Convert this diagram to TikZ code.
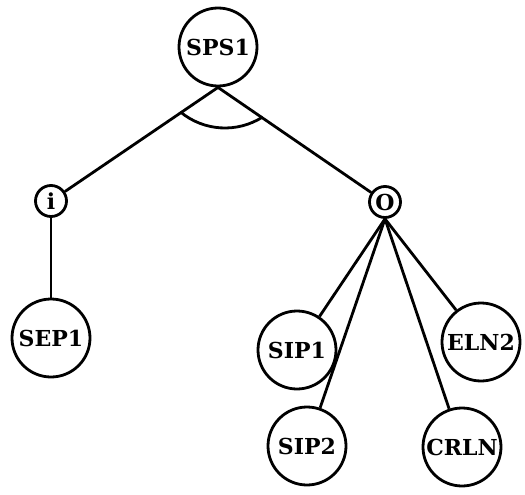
\documentclass[tikz,border=0pt]{standalone}
\usepackage{fontspec}
\setmainfont{DejaVu Serif}
\usetikzlibrary{calc}
\begin{document}
\begin{tikzpicture}[x=1pt,y=-1pt,
  every node/.style={font=\fontsize{22}{26}\selectfont\bfseries},
  bignode/.style={circle,draw,line width=2.8pt,inner sep=0pt,minimum size=78pt},
  smallnode/.style={circle,draw,line width=2.8pt,inner sep=0pt,minimum size=31pt},
  link/.style={line width=2.8pt}]
\useasboundingbox (0,0) rectangle (525,495);
% goal node and its AND-connected subgoals
\node[bignode] (sps1) at (218,47) {SPS1};
\node[smallnode] (i) at (51,201) {i};
\node[smallnode] (o) at (385,202) {O};
% leaves
\node[bignode] (sep1) at (51,338) {SEP1};
\node[bignode] (sip1) at (297,350) {SIP1};
\node[bignode] (eln2) at (481,342) {ELN2};
\node[bignode] (sip2) at (307,446) {SIP2};
\node[bignode] (crln) at (462,447) {CRLN};
% connectors
\draw[link] (sps1.south) -- (i);
\draw[link] (sps1.south) -- (o);
\draw[link] (i.south) -- (sep1);
\draw[link] (o.south) -- (sip1);
\draw[link] (o.south) -- (sip2);
\draw[link] (o.south) -- (crln);
\draw[link] (o.south) -- (eln2);
% AND arc joining the two branches (y axis points down here)
\coordinate (andc) at ($(sps1.center)+(7,11)$);
\draw[link] ($(andc)+(129.6:70)$) arc[start angle=129.6,end angle=57.5,radius=70];
\end{tikzpicture}
\end{document}
